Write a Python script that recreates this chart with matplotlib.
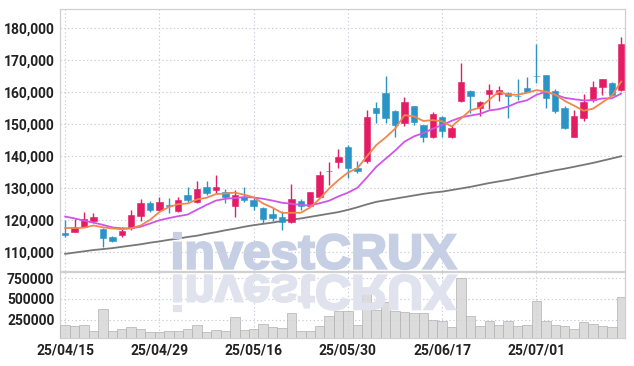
import matplotlib

matplotlib.use("Agg")
import matplotlib.pyplot as plt
import numpy as np
from matplotlib.font_manager import FontProperties
from matplotlib.patches import PathPatch
from matplotlib.textpath import TextPath
from matplotlib.transforms import Affine2D

# daily candles, 25/04/15 .. 25/07/14
opens = [115700, 116300, 117800, 119700, 117100, 114500, 115200, 117300, 121200, 125300,
         123000, 124500, 122800, 127800, 125400, 130100, 129400, 128800, 124300, 127200,
         126200, 123600, 121800, 120800, 119200, 125800, 124400, 127200, 135200, 138200,
         142900, 136100, 138400, 155100, 159800, 154100, 150400, 155600, 149700, 146000,
         152300, 145800, 157300, 160400, 154900, 159300, 159400, 159800, 158900, 161400,
         165100, 165300, 160300, 155100, 146000, 151800, 157500, 161500, 163000, 160700]
highs = [120000, 120300, 122400, 122200, 117300, 115000, 117700, 122900, 126600, 125800,
         127200, 126700, 127000, 130400, 132200, 132200, 133900, 129700, 129300, 130400,
         127000, 123900, 123600, 122800, 131200, 126400, 128700, 135400, 138200, 142100,
         143400, 138300, 154400, 156800, 165200, 154300, 158400, 155700, 149800, 153900,
         152500, 149700, 169000, 160600, 157300, 162400, 161900, 160100, 164000, 164800,
         175100, 165400, 160900, 155600, 154400, 159300, 163600, 164100, 163300, 177200]
lows = [114600, 116200, 117600, 119100, 111400, 112900, 114500, 116800, 119700, 122400,
        122600, 122200, 122300, 125700, 125300, 127800, 128300, 125100, 120800, 125700,
        123000, 118900, 119700, 116800, 119100, 123000, 124300, 127100, 130900, 136100,
        133000, 134800, 137700, 150200, 150400, 145800, 149400, 149700, 144500, 145500,
        146000, 145500, 157000, 153400, 152500, 154600, 157200, 151800, 157500, 160000,
        162700, 154900, 153600, 148300, 145900, 150900, 157000, 159100, 158900, 160400]
closes = [115300, 117600, 120100, 121000, 114200, 113400, 116500, 121500, 125300, 123100,
          125700, 124300, 126100, 126200, 129500, 128300, 130100, 127000, 127600, 126200,
          124400, 120200, 120500, 119400, 126400, 124400, 128600, 134000, 135400, 139800,
          136100, 135400, 152300, 153300, 151800, 149700, 156800, 150500, 146000, 153100,
          147900, 148600, 163100, 158900, 157000, 160700, 160600, 158800, 158700, 160100,
          164900, 158300, 154100, 148900, 152500, 157000, 161500, 164000, 159100, 175000]
volumes = [190000, 171000, 190000, 110000, 375000, 110000, 135000, 166000, 135000, 99000,
           99000, 110000, 110000, 135000, 183000, 99000, 122000, 110000, 279000, 122000,
           135000, 195000, 159000, 147000, 327000, 110000, 110000, 171000, 298000, 351000,
           351000, 183000, 579000, 367000, 459000, 351000, 339000, 327000, 327000, 246000,
           231000, 159000, 748000, 291000, 171000, 231000, 183000, 231000, 171000, 183000,
           471000, 231000, 183000, 171000, 135000, 219000, 195000, 171000, 159000, 519000]

# moving averages as drawn (5 / 10 / 60 day)
ma5 = [117400, 117400, 117500, 118200, 117640, 117260, 117040, 117320, 118180, 119960,
       122420, 123980, 124900, 125080, 126360, 126880, 128040, 128220, 128500, 127840,
       127060, 125080, 123780, 122140, 122180, 122180, 123860, 126560, 129760, 132440,
       134780, 136140, 139800, 143380, 145780, 148500, 152780, 152420, 150960, 151220,
       150860, 149220, 151740, 154320, 155100, 157660, 160060, 159200, 159160, 159780,
       160620, 160160, 159220, 157260, 155740, 154160, 154800, 156780, 158820, 163320]
ma10 = [121000, 120400, 119700, 119100, 118400, 117600, 117300, 117300, 117800, 118800,
        119840, 120510, 121110, 121630, 123160, 124650, 126010, 126560, 126790, 127100,
        126970, 126560, 126000, 125320, 125010, 124620, 124470, 125170, 125950, 127310,
        128480, 130000, 133180, 136570, 139110, 141640, 144460, 146110, 147170, 148500,
        149680, 151000, 152080, 152640, 153160, 154260, 154640, 155470, 156740, 157440,
        159140, 160110, 159210, 158210, 157760, 157390, 157480, 158000, 158040, 159530]
ma60 = [109300, 109700, 110100, 110500, 110800, 111100, 111500, 111900, 112300, 112800,
        113200, 113700, 114100, 114600, 115000, 115600, 116100, 116700, 117200, 117800,
        118300, 118700, 119100, 119600, 120000, 120400, 120900, 121400, 121900, 122400,
        123100, 123900, 124800, 125600, 126100, 126600, 127100, 127600, 128100, 128500,
        128800, 129300, 129800, 130300, 130900, 131500, 132000, 132500, 133100, 133700,
        134300, 134900, 135500, 136000, 136600, 137200, 137800, 138500, 139200, 139900]

tick_idx = [0, 10, 20, 30, 40, 50]
tick_labels = ["25/04/15", "25/04/29", "25/05/16", "25/05/30", "25/06/17", "25/07/01"]
price_ticks = [110000, 120000, 130000, 140000, 150000, 160000, 170000, 180000]
vol_ticks = [250000, 500000, 750000]

UP, DOWN = "#e31c63", "#2b94c6"
GRID = "#c9ccdc"
BORDER = "#d0d0d0"

plt.rcParams["font.family"] = ["Liberation Sans Narrow", "Roboto", "DejaVu Sans"]
plt.rcParams["font.weight"] = "bold"

W, H = 634, 366
fig = plt.figure(figsize=(W / 100, H / 100), dpi=100)
fig.patch.set_facecolor("white")


def box(l, t, r, b):
    return [l / W, 1 - b / H, (r - l) / W, (b - t) / H]


ax = fig.add_axes(box(60, 9.3, 625, 271))
axv = fig.add_axes(box(60, 272, 625, 337.5), sharex=ax)

# watermark with reflection, behind both panels
fp = FontProperties(family="Liberation Sans", weight="bold")
tp = TextPath((0, 0), "investCRUX", size=100, prop=fp)
ext = tp.get_extents()
sx = (456 - 174) / ext.width
sy = (269 - 233) / ext.height
base = Affine2D().translate(-ext.x0, -ext.y0).scale(sx, sy)
wm = base + Affine2D().translate(174, H - 269)
fig.patches.append(PathPatch(tp, transform=wm, facecolor="#c7cfe4", edgecolor="#c7cfe4",
                             linewidth=1.6, zorder=0, figure=fig))
refl = base + Affine2D().scale(1, -1).translate(174, H - 275)
fig.patches.append(PathPatch(tp, transform=refl, facecolor="#e0e3ed", edgecolor="#e0e3ed",
                             linewidth=1.6, zorder=0, figure=fig))

for a in (ax, axv):
    a.set_facecolor("none")
    for s in a.spines.values():
        s.set_color(BORDER)
        s.set_linewidth(0.9)
    a.tick_params(length=0, labelsize=10, colors="#222222", pad=4)
    a.grid(True, color=GRID, linestyle=(0, (1.2, 2.2)), linewidth=0.8)
    a.set_axisbelow(True)

x = np.arange(len(closes))
o = np.array(opens)
c = np.array(closes)
colors = [UP if cc >= oo else DOWN for oo, cc in zip(o, c)]
bottoms = np.minimum(o, c)
heights = np.maximum(np.abs(c - o), 200)

ax.vlines(x, lows, highs, colors=colors, linewidth=1.0, zorder=3)
ax.bar(x, heights, bottom=bottoms, width=0.68, color=colors, edgecolor=colors,
       linewidth=0.4, zorder=4)
ax.plot(x, ma60, color="#777777", linewidth=1.3, zorder=2)
ax.plot(x, ma10, color="#cf55ea", linewidth=1.3, zorder=5)
ax.plot(x, ma5, color="#f0874c", linewidth=1.3, zorder=6)

ax.set_xlim(-0.55, 59.4)
ax.set_ylim(103930, 185950)
ax.set_yticks(price_ticks)
ax.set_yticklabels([f"{v:,}" for v in price_ticks])
ax.set_xticks(tick_idx)
plt.setp(ax.get_xticklabels(), visible=False)

axv.bar(x, volumes, width=1.0, color="#d6d6d6", edgecolor="#b2b2b2", linewidth=0.6,
        alpha=0.85, zorder=3)
axv.set_ylim(35000, 826000)
axv.set_yticks(vol_ticks)
axv.set_yticklabels([str(v) for v in vol_ticks])
axv.set_xticks(tick_idx)
axv.set_xticklabels(tick_labels)

fig.savefig("out.png", dpi=100, facecolor="white")
